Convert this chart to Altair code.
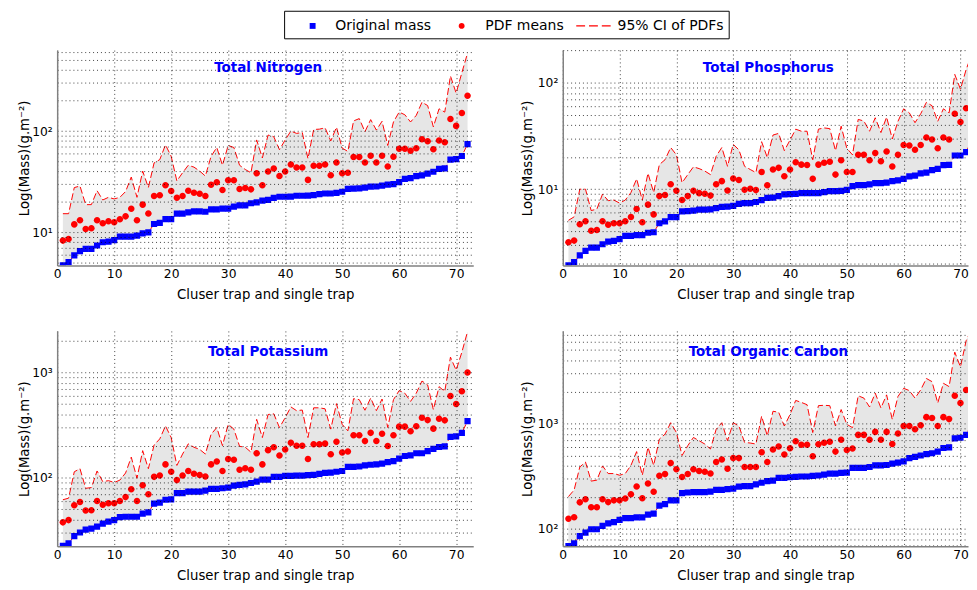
import altair as alt
import pandas as pd

x_idx = list(range(1, 73))

# ---------------- Total Nitrogen ----------------
n_orig = [4.74, 5.08, 5.93, 6.54, 6.89, 6.89, 7.43, 8.0, 8.1, 8.4,
          9.08, 9.08, 9.1, 9.3, 9.8, 10.0, 12.1, 12.4, 13.5, 13.5,
          15.3, 15.3, 15.8, 16.1, 16.1, 16.0, 16.9, 16.9, 17.2, 17.2,
          18.0, 18.5, 18.5, 19.4, 19.8, 20.6, 20.9, 21.9, 22.5, 22.5,
          22.6, 23.0, 23.0, 23.1, 23.3, 23.9, 24.2, 24.2, 24.6, 25.2,
          26.9, 27.1, 27.2, 27.7, 28.3, 28.4, 28.9, 29.6, 30.0, 31.3,
          33.7, 34.4, 36.0, 36.6, 38.0, 39.7, 42.4, 42.8, 52.2, 53.0,
          56.8, 74.3]
n_mean = [8.3, 8.6, 12.0, 13.2, 10.8, 11.0, 13.2, 12.3, 12.9, 12.6,
          13.5, 14.4, 17.1, 13.2, 18.8, 15.4, 22.9, 23.3, 29.2, 25.6,
          22.0, 22.9, 25.8, 24.6, 24.1, 22.9, 29.5, 31.3, 26.2, 32.7,
          32.7, 26.8, 27.4, 26.6, 38.3, 29.2, 40.0, 42.8, 36.0, 40.0,
          46.8, 43.7, 43.7, 33.0, 45.4, 45.4, 46.8, 36.6, 48.9, 38.3,
          38.8, 55.5, 55.5, 48.9, 57.2, 48.9, 57.2, 44.7, 55.8, 66.8,
          66.8, 63.9, 67.8, 83.0, 79.4, 66.3, 80.6, 77.6, 131.8, 112.6,
          150.6, 223.7]
n_upper = [15.3, 15.3, 27.7, 28.7, 18.8, 18.8, 25.8, 20.9, 22.2, 21.4,
           22.2, 25.3, 35.2, 22.2, 40.3, 27.7, 48.5, 52.3, 73.1, 56.4,
           32.2, 38.8, 46.0, 44.1, 40.3, 36.0, 56.4, 68.9, 46.0, 72.1,
           68.9, 46.0, 41.8, 38.8, 81.8, 54.3, 91.5, 88.1, 65.5, 81.8,
           100, 94.9, 97, 53.5, 103.8, 104.5, 107.7, 79.9, 109.3, 68,
           63, 126, 132.8, 98.6, 129.8, 102.3, 125, 72.1, 123.2, 154,
           145, 123, 143, 192.6, 178.7, 110, 166, 154, 350, 237,
           377, 589]

# ---------------- Total Phosphorus ----------------
p_orig = [1.93, 2.07, 2.39, 2.64, 2.83, 2.83, 3.04, 3.22, 3.27, 3.40,
          3.65, 3.65, 3.71, 3.71, 3.90, 3.94, 4.79, 4.99, 5.47, 5.47,
          6.18, 6.23, 6.30, 6.44, 6.44, 6.46, 6.64, 6.83, 6.85, 6.96,
          7.28, 7.40, 7.40, 7.58, 7.91, 8.27, 8.33, 8.61, 8.93, 9.00,
          9.05, 9.18, 9.18, 9.20, 9.20, 9.38, 9.60, 9.60, 9.65, 9.86,
          10.7, 10.9, 10.9, 11.1, 11.4, 11.4, 11.5, 11.9, 12.1, 12.5,
          13.2, 13.4, 14.1, 14.3, 15.1, 15.5, 16.8, 16.9, 20.7, 20.7,
          22.3, 29.0]
p_mean = [3.18, 3.29, 4.69, 4.99, 4.07, 4.13, 4.99, 4.64, 4.79, 4.79,
          4.99, 5.47, 6.53, 4.90, 7.16, 5.80, 8.61, 8.80, 11.1, 9.66,
          7.91, 8.61, 9.66, 9.18, 9.05, 8.70, 11.1, 11.9, 9.70, 12.6,
          12.2, 9.90, 10.1, 9.80, 14.5, 10.9, 15.3, 15.85, 13.2, 15.3,
          17.9, 17.0, 16.9, 12.5, 17.0, 17.7, 18.1, 13.7, 18.7, 14.5,
          14.5, 21.0, 21.0, 18.7, 21.8, 18.3, 22.6, 16.3, 21.0, 26.0,
          25.7, 23.4, 26.0, 30.6, 29.3, 24.2, 30.6, 29.3, 51.0, 42.7,
          57.5, 85.0]
p_upper = [5.1, 5.5, 10.0, 10.0, 6.3, 6.5, 9.0, 7.8, 7.9, 7.4,
           7.9, 9.3, 12.5, 7.9, 14.1, 9.3, 17.0, 18.9, 24.6, 21.0,
           11.5, 13.7, 16.2, 15.6, 14.8, 13.7, 20.4, 24.6, 16.4, 26.4,
           23.4, 16.4, 15.3, 14.3, 27.9, 19.8, 32.2, 33.4, 23.0, 28.9,
           36.6, 35.0, 35.0, 18.9, 36.6, 37.6, 37.0, 23.0, 39.0, 24.2,
           21.0, 45.2, 43.6, 35.0, 46.8, 34.0, 47.5, 29.6, 43.3, 56.8,
           52.0, 42.1, 51.0, 65.3, 60.7, 43.3, 56.8, 52.0, 119.4, 86.8,
           132.8, 185]

# ---------------- Total Potassium ----------------
k_orig = [22.5, 23.8, 27.9, 30.2, 32.2, 32.9, 34.3, 36.6, 38.3, 39.6,
          42.3, 42.6, 42.6, 42.6, 45.7, 46.9, 56.8, 58.0, 61.8, 62.2,
          71.5, 71.5, 74.0, 74.0, 74.0, 75.6, 78.3, 78.3, 79.5, 80.7,
          84.2, 85.5, 86.7, 89.2, 91.8, 96.0, 96.0, 102, 102, 104,
          104, 105, 105, 106, 106.5, 109, 111.5, 112, 114, 116,
          127, 127, 128, 131, 133, 134, 136, 141, 144, 152,
          161, 163, 171, 171, 179, 188, 196, 199, 245, 247,
          267, 346]
k_mean = [37.7, 39.6, 54.7, 58.8, 48.8, 49.2, 60.1, 55.5, 57.3, 57.3,
          60.1, 65.5, 77.8, 60.1, 84.8, 69.8, 102, 105, 134, 114,
          95, 105, 116, 109, 106, 103, 134, 143, 116, 151,
          148, 119, 123, 119, 171, 134, 183, 195, 163, 186,
          215, 201, 201, 151, 208, 208, 211, 167, 220, 174,
          178, 253, 253, 223, 267, 224, 262, 200, 254, 306,
          306, 277, 309, 371, 353, 293, 363, 351, 597, 502,
          664, 1000]
k_upper = [61.8, 64, 114, 122, 79.4, 80.7, 116, 91.8, 93.9, 90.2,
           95, 111, 157, 99, 181, 122, 205, 234, 311, 241,
           131, 168, 210, 195, 186, 168, 259, 300, 202, 322,
           290, 199, 195, 175, 359, 241, 399, 405, 300, 372,
           471, 434, 440, 241, 462, 462, 452, 290, 506, 322,
           279, 564, 552, 438, 572, 434, 560, 300, 552, 674,
           636, 532, 636, 830, 761, 444, 734, 660, 1400, 1052,
           1560, 2450]

# ---------------- Total Organic Carbon ----------------
c_orig = [68.9, 73, 85.4, 92.4, 99.4, 99.4, 107, 113, 116, 122,
          127, 127, 129, 129, 137, 140, 167, 172, 187, 187,
          219, 222, 224, 224, 224, 226, 235, 235, 239, 242,
          253, 255, 255, 265, 275, 285, 288, 306, 306, 310,
          313, 315, 315, 319, 322, 329, 336, 336, 341, 343,
          380, 380, 380, 388, 402, 402, 405, 417, 426, 439,
          471, 485, 499, 513, 524, 543, 588, 596, 724, 735,
          783, 1000]
c_mean = [125, 129, 179, 192, 161, 161, 192, 180, 187, 187,
          195, 214, 253, 196, 271, 226, 320, 332, 423, 369,
          311, 333, 370, 355, 350, 336, 432, 458, 374, 471,
          471, 388, 388, 388, 536, 432, 568, 606, 509, 584,
          680, 632, 632, 491, 637, 660, 674, 543, 703, 563,
          580, 783, 783, 703, 836, 703, 836, 641, 807, 951,
          951, 885, 965, 1154, 1130, 951, 1154, 1105, 1841, 1571,
          2093, 3100]
c_upper = [203, 235, 388, 432, 285, 291, 397, 336, 336, 324,
           336, 402, 543, 324, 597, 402, 714, 795, 1022, 824,
           499, 618, 740, 689, 641, 575, 885, 1022, 689, 1022,
           951, 664, 655, 641, 1180, 767, 1313, 1284, 951, 1222,
           1663, 1592, 1515, 824, 1484, 1495, 1484, 951, 1362, 986,
           917, 1841, 1750, 1441, 1950, 1411, 1879, 1098, 1814, 2168,
           2063, 1750, 2093, 2690, 2507, 1571, 2420, 2250, 4776, 3460,
           6140, 7900]

titles = ["Total Nitrogen", "Total Phosphorus", "Total Potassium", "Total Organic Carbon"]
series_names = ["Original mass", "PDF means", "95% CI of PDFs"]
x_ticks = [0, 10, 20, 30, 40, 50, 60, 70]

FONT = "DejaVu Sans"
# data marker shapes (size 1225 -> 1 unit = 17.5 px)
SQ = "M-0.18,-0.18H0.18V0.18H-0.18Z"
CI = "M0.19,0A0.19,0.19,0,1,1,-0.19,0A0.19,0.19,0,1,1,0.19,0Z"
# legend symbol shapes (size 400 -> 1 unit = 10 px)
SQ_L = "M1.1,-0.3H1.7V0.3H1.1Z"
CI_L = "M1.6,0A0.3,0.3,0,1,1,1.0,0A0.3,0.3,0,1,1,1.6,0Z"
DASH_L = ("M-0.5,-0.06H0.4V0.06H-0.5Z M0.8,-0.06H1.7V0.06H0.8Z "
          "M2.1,-0.06H3.0V0.06H2.1Z")

color_scale = alt.Scale(domain=series_names, range=["#0000ff", "#ff0000", "#ff0000"])
shape_scale = alt.Scale(domain=series_names, range=[SQ, CI, SQ])
legend_shape_scale = alt.Scale(domain=series_names, range=[SQ_L, CI_L, DASH_L])


def grid_values(lo, hi):
    vals = []
    for k in range(0, 5):
        for m in range(1, 10):
            v = m * 10 ** k
            if lo <= v <= hi:
                vals.append(v)
    return vals


LABEL_EXPR = ("datum.value == 10 ? '10\u00b9' : datum.value == 100 ? '10\u00b2' : "
              "datum.value == 1000 ? '10\u00b3' : ''")


def panel(orig, mean, upper, title, ydom, width, xmax, title_y, ytitle_pad, legend):
    df = pd.DataFrame({"x": x_idx, "orig": orig, "mean": mean, "upper": upper, "lower": orig})
    xs = alt.Scale(domain=[0, xmax], nice=False, zero=False)
    ys = alt.Scale(type="log", domain=ydom, nice=False)
    xaxis = alt.Axis(values=x_ticks, title="Cluser trap and single trap", format="d",
                     labelPadding=2, titlePadding=8.5, zindex=1, labelFlush=False)
    yaxis = alt.Axis(values=grid_values(*ydom), labelExpr=LABEL_EXPR,
                     title="Log(Mass)(g.m\u207b\u00b2)", labelOverlap=False,
                     minExtent=22, maxExtent=22, titlePadding=ytitle_pad,
                     labelPadding=5, zindex=1, labelFlush=False)
    base = alt.Chart(df)
    area = base.mark_area(color="#e6e6e6", clip=True).encode(
        x=alt.X("x:Q", scale=xs, axis=xaxis),
        y=alt.Y("lower:Q", scale=ys, axis=yaxis),
        y2="upper:Q",
    )
    up = base.mark_line(color="#ff0000", strokeDash=[7, 3], strokeWidth=1, clip=True).encode(
        x="x:Q", y="upper:Q")
    lo = base.mark_line(color="#ff0000", strokeDash=[7, 3], strokeWidth=1, clip=True).encode(
        x="x:Q", y="lower:Q")
    pts = base.transform_fold(["orig", "mean"], as_=["key", "val"]).transform_calculate(
        series="datum.key == 'orig' ? 'Original mass' : 'PDF means'"
    ).mark_point(filled=True, opacity=1, size=1225, strokeWidth=0, clip=True).encode(
        x="x:Q",
        y="val:Q",
        color=alt.Color("series:N", scale=color_scale, legend=None),
        shape=alt.Shape("series:N", scale=shape_scale, legend=None),
    )
    ttl = alt.Chart(pd.DataFrame({"t": [title]})).mark_text(
        font=FONT, fontSize=13.7, fontWeight="bold", color="#0000ff", baseline="middle"
    ).encode(text="t:N", x=alt.value(width / 2 + 3), y=alt.value(title_y))
    layers = [area, up, lo, pts, ttl]
    if legend is not None:
        leg_layer = alt.Chart(pd.DataFrame({"series": series_names})).transform_filter(
            "false"
        ).mark_point(filled=True, opacity=1, size=400, strokeWidth=0).encode(
            color=alt.Color("series:N", scale=color_scale, legend=legend),
            shape=alt.Shape("series:N", scale=legend_shape_scale, legend=legend),
        )
        layers.append(leg_layer)
    return alt.layer(*layers).resolve_scale(color="independent", shape="independent").properties(
        width=width, height=219)


leg = alt.Legend(orient="none", legendX=230.7, legendY=-40, direction="horizontal",
                 columns=3, title=None, fillColor="white", strokeColor="black",
                 padding=5, labelFont=FONT, labelFontSize=14.2, labelColor="black",
                 labelOffset=27, columnPadding=7.5, symbolSize=400, symbolStrokeWidth=0,
                 labelLimit=300)

W_L, W_R = 423, 412
p1 = panel(n_orig, n_mean, n_upper, titles[0], [4.71, 630], W_L, 73, 18, 4, leg)
p2 = panel(p_orig, p_mean, p_upper, titles[1], [1.92, 202], W_R, W_R / 5.776, 18, 7, None)
p3 = panel(k_orig, k_mean, k_upper, titles[2], [22.3, 2483], W_L, 73, 21, 4, None)
p4 = panel(c_orig, c_mean, c_upper, titles[3], [68.4, 7600], W_R, W_R / 5.776, 21, 7, None)

res = dict(x="independent", y="independent", color="independent", shape="independent")

chart = alt.concat(p1, p2, p3, p4, columns=2, spacing={"row": 66.5, "column": 91},
                   bounds="flush").resolve_scale(**res).properties(
    padding={"left": 10, "top": -3, "right": 0, "bottom": 0}
).configure(font=FONT).configure_view(stroke=None).configure_axis(
    gridColor="#000000", gridDash=[1, 3], gridOpacity=0.75, gridWidth=1,
    domainColor="#808080", domainWidth=1.5, ticks=False,
    labelFont=FONT, labelFontSize=12.5, labelColor="black",
    titleFont=FONT, titleFontSize=13.5, titleFontWeight="normal", titleColor="black",
).configure_axisX(grid=True).configure_axisY(grid=True)

chart.save("out.html", embed_options={"renderer": "svg", "actions": False})
